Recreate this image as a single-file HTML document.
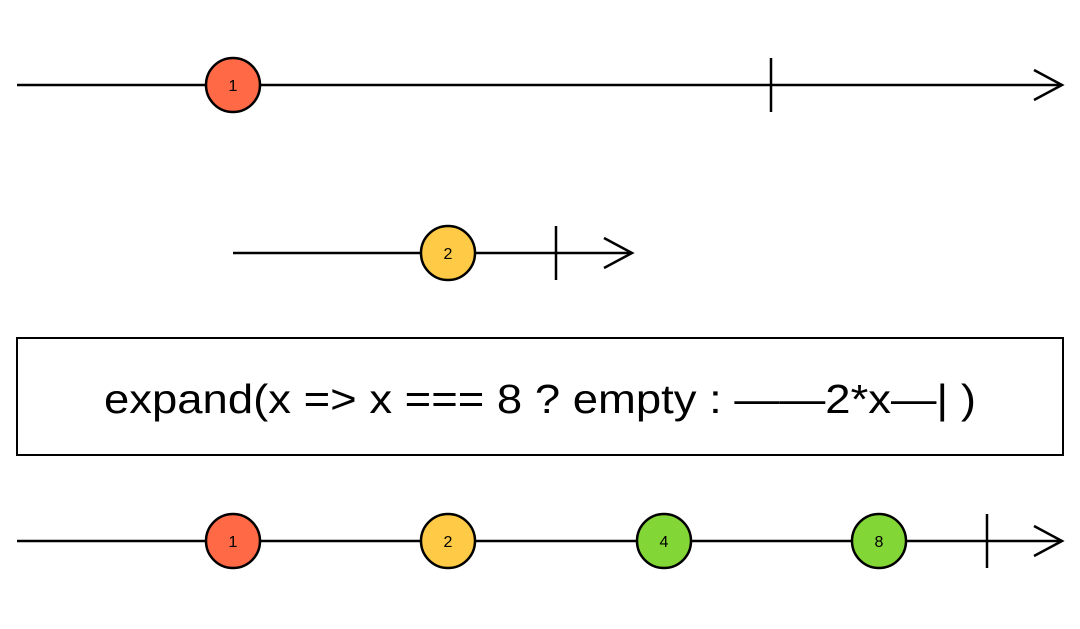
<!DOCTYPE html>
<html><head><style>html,body{margin:0;padding:0;background:#fff;}</style></head>
<body>
<svg width="1080" height="624" xmlns="http://www.w3.org/2000/svg" font-family="Liberation Sans, sans-serif">
<g stroke="#000" stroke-width="2.5" fill="none">
<line x1="17" y1="85" x2="1062" y2="85"/>
<polyline points="1034,70 1062,85 1034,100"/>
<line x1="771" y1="58" x2="771" y2="112"/>
<line x1="233" y1="253" x2="632" y2="253"/>
<polyline points="604,238 632,253 604,268"/>
<line x1="556" y1="226" x2="556" y2="280"/>
<line x1="17" y1="541" x2="1062" y2="541"/>
<polyline points="1034,526 1062,541 1034,556"/>
<line x1="987" y1="514" x2="987" y2="568"/>
<rect x="17" y="338" width="1046" height="117" stroke-width="2"/>
</g>
<g stroke="#000" stroke-width="2.5">
<circle cx="233" cy="85" r="27" fill="#FF6946"/>
<circle cx="448" cy="253" r="27" fill="#FFCB46"/>
<circle cx="233" cy="541" r="27" fill="#FF6946"/>
<circle cx="448" cy="541" r="27" fill="#FFCB46"/>
<circle cx="664" cy="541" r="27" fill="#82D736"/>
<circle cx="879" cy="541" r="27" fill="#82D736"/>
</g>
<g font-size="16" text-anchor="middle" fill="#000">
<text x="233" y="91">1</text>
<text x="448" y="259">2</text>
<text x="233" y="547">1</text>
<text x="448" y="547">2</text>
<text x="664" y="547">4</text>
<text x="879" y="547">8</text>
</g>
<text x="540" y="413" font-size="41" text-anchor="middle" fill="#000" textLength="872" lengthAdjust="spacingAndGlyphs">expand(x =&gt; x === 8 ? empty : ——2*x—| )</text>
</svg>
</body></html>
